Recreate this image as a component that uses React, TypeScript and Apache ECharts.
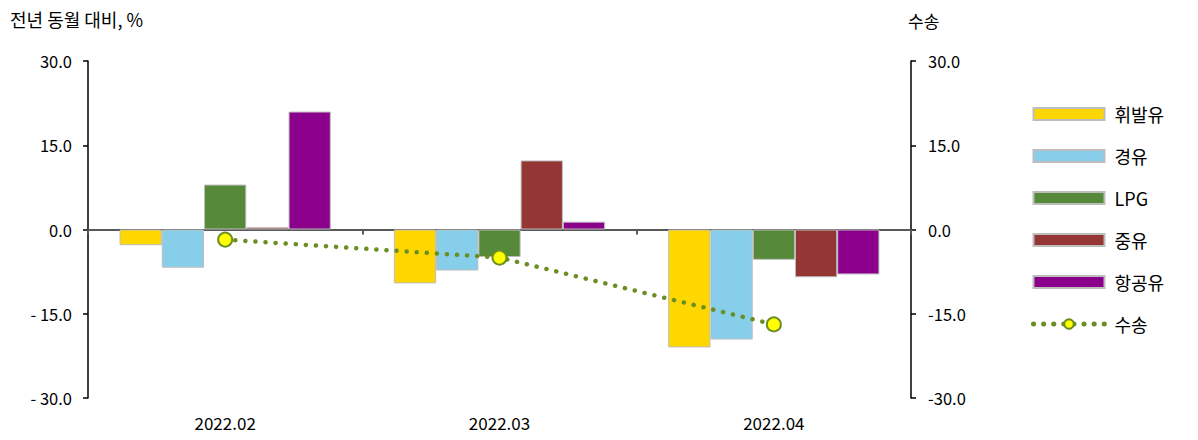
import React, { useEffect, useRef } from "react";
import * as echarts from "echarts";

const categories = ["2022.02", "2022.03", "2022.04"];
const gasoline = [-2.8, -9.6, -21.0];
const diesel = [-6.8, -7.3, -19.6];
const lpg = [8.0, -4.9, -5.4];
const heavyOil = [0.4, 12.3, -8.5];
const jetFuel = [21.0, 1.4, -8.0];
const transport = [-1.8, -5.0, -16.9];

const FONT = "'Noto Sans CJK KR', 'Noto Sans', sans-serif";

export default function App() {
  const ref = useRef<HTMLDivElement>(null);
  useEffect(() => {
    if (!ref.current) return;
    const chart = echarts.init(ref.current, undefined, { renderer: "svg" });
    const barBorder = { borderColor: "#bdbdbd", borderWidth: 1 };
    const mkBar = (name: string, data: number[], color: string) => ({
      name,
      type: "bar",
      data,
      barGap: "0%",
      barCategoryGap: "23%",
      itemStyle: { color, ...barBorder },
    });
    chart.setOption({
      animation: false,
      textStyle: { fontFamily: FONT },
      graphic: [
        {
          type: "text",
          left: 10,
          top: 10,
          style: { text: "전년 동월 대비, %", fontSize: 18, fill: "#000", fontFamily: FONT },
        },
        {
          type: "text",
          left: 908,
          top: 12,
          style: { text: "수송", fontSize: 17, fill: "#000", fontFamily: FONT },
        },
      ],
      grid: { left: 88, right: 287, top: 61, bottom: 42 },
      legend: {
        orient: "vertical",
        left: 1031,
        top: 105,
        padding: 0,
        itemWidth: 71,
        itemHeight: 12,
        itemGap: 24,
        textStyle: { fontSize: 18, color: "#000", fontFamily: FONT, padding: [0, 0, 0, 5] },
        data: [
          { name: "휘발유", icon: "rect" },
          { name: "경유", icon: "rect" },
          { name: "LPG", icon: "rect" },
          { name: "중유", icon: "rect" },
          { name: "항공유", icon: "rect" },
          {
            name: "수송",
            lineStyle: { color: "#6B8E23", width: 5, type: [0.1, 10], cap: "round" },
          },
        ],
      },
      xAxis: [
        {
          type: "category",
          data: categories,
          position: "bottom",
          axisLine: { show: false, onZero: false },
          axisTick: { show: false },
          axisLabel: { fontSize: 17, color: "#000", margin: 16, fontFamily: FONT },
        },
        {
          type: "category",
          data: categories,
          position: "bottom",
          axisLine: { show: true, onZero: true, lineStyle: { color: "#595959", width: 2 } },
          axisTick: { show: true, length: 5, lineStyle: { color: "#595959", width: 2 } },
          axisLabel: { show: false },
        },
      ],
      yAxis: [
        {
          type: "value",
          min: -30,
          max: 30,
          interval: 15,
          position: "left",
          splitLine: { show: false },
          axisLine: { show: true, onZero: false, lineStyle: { color: "#000", width: 1.5 } },
          axisTick: { show: true, length: 5, lineStyle: { color: "#000", width: 1.5 } },
          axisLabel: {
            fontSize: 16.5,
            color: "#000",
            margin: 16,
            fontFamily: FONT,
            formatter: (v: number) => (v < 0 ? "- " + Math.abs(v).toFixed(1) : v.toFixed(1)),
          },
        },
        {
          type: "value",
          min: -30,
          max: 30,
          interval: 15,
          position: "right",
          splitLine: { show: false },
          axisLine: { show: true, onZero: false, lineStyle: { color: "#000", width: 1.5 } },
          axisTick: { show: true, length: 5, lineStyle: { color: "#000", width: 1.5 } },
          axisLabel: {
            fontSize: 16.5,
            color: "#000",
            margin: 17,
            fontFamily: FONT,
            formatter: (v: number) => v.toFixed(1),
          },
        },
      ],
      series: [
        mkBar("휘발유", gasoline, "#FFD700"),
        mkBar("경유", diesel, "#87CEEB"),
        mkBar("LPG", lpg, "#568A3A"),
        mkBar("중유", heavyOil, "#943634"),
        mkBar("항공유", jetFuel, "#8B008B"),
        {
          name: "수송",
          type: "line",
          yAxisIndex: 1,
          data: transport,
          symbol: "circle",
          symbolSize: 14,
          itemStyle: { color: "#FFFF00", borderColor: "#6B8E23", borderWidth: 2 },
          lineStyle: { color: "#6B8E23", width: 4.5, type: [0.1, 10], cap: "round" },
          z: 5,
        },
      ],
    });
    return () => chart.dispose();
  }, []);
  return <div ref={ref} style={{ width: 1198, height: 440, position: "absolute", left: 0, top: 0 }} />;
}
